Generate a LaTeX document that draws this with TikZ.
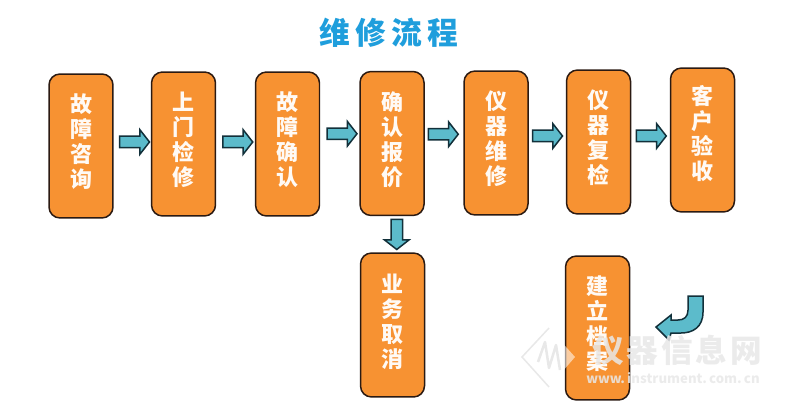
\documentclass[tikz,border=0pt]{standalone}
\usepackage{fontspec}
\newfontfamily\cnfont{Noto Sans CJK SC Black}
\usetikzlibrary{shapes.arrows}
\definecolor{boxorange}{HTML}{F79232}
\definecolor{boxedge}{HTML}{2B1A12}
\definecolor{arrowteal}{HTML}{5CBBCB}
\definecolor{arrowedge}{HTML}{12303A}
\definecolor{titleblue}{HTML}{1F9EDC}
\definecolor{marktext}{HTML}{E8E8E8}
\tikzset{
	stepbox/.style={draw=boxedge, line width=0.03cm, fill=boxorange, rounded corners=0.22cm,
		minimum width=1.28cm, minimum height=2.88cm, inner sep=0pt, align=center, text=white!96!orange,
		font=\cnfont\fontsize{12.5}{14.2}\selectfont},
	blockarrow/.style={draw=arrowedge, line width=0.03cm, fill=arrowteal, single arrow, inner sep=0.1cm,
		minimum height=0.6cm, minimum width=0.46cm, single arrow head extend=0.13cm,
		single arrow tip angle=104, single arrow head indent=0pt},
}
\begin{document}
\begin{tikzpicture}[x=0.02cm, y=-0.02cm]
	\useasboundingbox (0, 0) rectangle (800, 418);
	%%%%% title %%%%%
	\node[text=titleblue, font=\cnfont\fontsize{17.5}{20}\selectfont, inner sep=0pt] (title) at (389, 33) {维\,修\,流\,程};

	%%%%% top row %%%%%
	\node[stepbox, text depth=0.2cm] (consult) at (81, 146) {故\\障\\咨\\询};
	\node[stepbox, text depth=0.2cm] (visit) at (183.5, 144) {上\\门\\检\\修};
	\node[stepbox, text depth=0.2cm] (confirm) at (287.5, 144) {故\\障\\确\\认};
	\node[stepbox, text depth=0.2cm] (quote) at (392, 143.5) {确\\认\\报\\价};
	\node[stepbox, text depth=0.2cm] (repair) at (496, 143) {仪\\器\\维\\修};
	\node[stepbox, text depth=0.2cm] (recheck) at (598.5, 142) {仪\\器\\复\\检};
	\node[stepbox, text depth=0.3cm] (accept) at (702.5, 140) {客\\户\\验\\收};

	%%%%% bottom row %%%%%
	\node[stepbox, text depth=0.16cm] (cancel) at (392.5, 325) {业\\务\\取\\消};
	\node[stepbox, text depth=0.2cm] (archive) at (597.5, 328) {建\\立\\档\\案};

	%%%%% arrows %%%%%
	\path (consult.east) -- node[blockarrow, xshift=0cm, yshift=0.06cm] (a1) {} (visit.west);
	\path (visit.east) -- node[blockarrow, xshift=0cm, yshift=0.04cm] (a2) {} (confirm.west);
	\path (confirm.east) -- node[blockarrow, xshift=0cm, yshift=0.2cm] (a3) {} (quote.west);
	\path (quote.east) -- node[blockarrow, xshift=-0.06cm, yshift=0.18cm] (a4) {} (repair.west);
	\path (repair.east) -- node[blockarrow, xshift=-0.04cm, yshift=0.13cm] (a5) {} (recheck.west);
	\path (recheck.east) -- node[blockarrow, xshift=-0.03cm, yshift=0.1cm] (a6) {} (accept.west);
	\path (quote.south) -- node[blockarrow, shape border rotate=270, xshift=0.09cm, yshift=0.04cm] (a7) {} (cancel.north);

	%%%%% curved arrow %%%%%
	\draw[draw=arrowedge, line width=0.03cm, fill=arrowteal] (688, 296) -- (703, 296) -- (703, 312)
		.. controls (703, 327) and (693, 333) .. (681, 333) -- (671, 333) -- (669, 340) -- (656, 327) -- (671, 315) -- (671, 320) -- (678, 320)
		.. controls (684, 320) and (688, 317) .. (688, 310) -- cycle;

	%%%%% watermark %%%%%
	\fill[white, opacity=0.55] (549, 328) -- (575, 357) -- (549, 387) -- (522, 357) -- cycle;
	\draw[marktext, line width=0.03cm] (549, 328) -- (522, 357) -- (549, 387);
	\draw[marktext, line width=0.05cm, line join=round] (538, 362) -- (545, 342) -- (549, 368) -- (556, 345) -- (560, 370);
	\node[text=marktext, opacity=0.85, font=\cnfont\fontsize{18}{20}\selectfont, inner sep=0pt] (markcn) at (677, 350) {仪\hspace{1.6pt}器\hspace{1.6pt}信\hspace{1.6pt}息\hspace{1.6pt}网};
	\node[text=marktext, opacity=0.85, font=\cnfont\fontsize{7.5}{8}\selectfont, inner sep=0pt] (markurl) at (673, 378) {www.\,instrument.\,com.\,cn};
\end{tikzpicture}
\end{document}
